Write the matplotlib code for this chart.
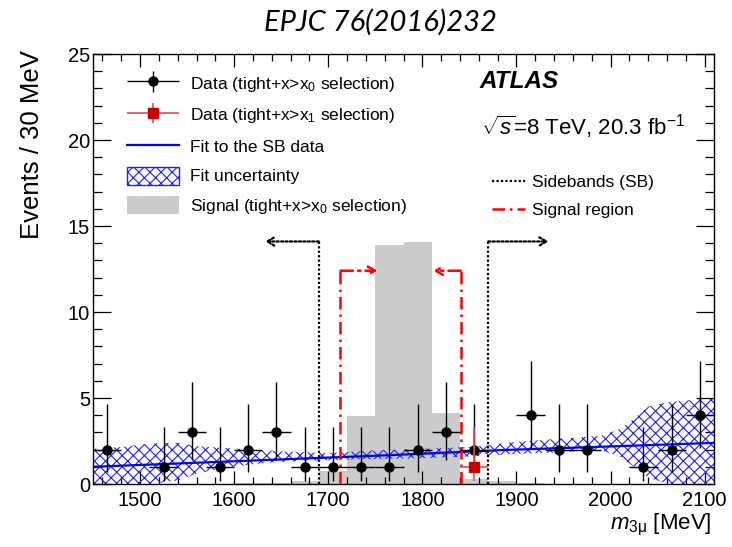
import numpy as np
import matplotlib
matplotlib.use("Agg")
import matplotlib.pyplot as plt
from matplotlib.lines import Line2D
from matplotlib.patches import Patch
from matplotlib.legend_handler import HandlerErrorbar

# ---------------- data ----------------
# 30 MeV bins from 1450 to 2110 MeV
bin_edges = [1450, 1480, 1510, 1540, 1570, 1600, 1630, 1660, 1690, 1720, 1750,
             1780, 1810, 1840, 1870, 1900, 1930, 1960, 1990, 2020, 2050, 2080, 2110]

# Data, tight + x > x0 selection (non-empty bins)
data0_x = [1465, 1525, 1555, 1585, 1615, 1645, 1675, 1705, 1735, 1765, 1795,
           1825, 1855, 1915, 1945, 1975, 2035, 2065, 2095]
data0_n = [2, 1, 3, 1, 2, 3, 1, 1, 1, 1, 2, 3, 2, 4, 2, 2, 1, 2, 4]
data0_err_lo = [1.29, 0.83, 1.63, 0.83, 1.29, 1.63, 0.83, 0.83, 0.83, 0.83, 1.29,
                1.63, 1.29, 1.91, 1.29, 1.29, 0.83, 1.29, 1.91]
data0_err_hi = [2.64, 2.30, 2.92, 2.30, 2.64, 2.92, 2.30, 2.30, 2.30, 2.30, 2.64,
                2.92, 2.64, 3.16, 2.64, 2.64, 2.30, 2.64, 3.16]

# Data, tight + x > x1 selection
data1_x = [1855]
data1_n = [1]
data1_err_lo = [0.83]
data1_err_hi = [2.30]

# Signal shape (tight + x > x0 selection), per bin
signal = [0.02, 0.02, 0.02, 0.02, 0.02, 0.03, 0.07, 0.15, 0.77, 3.93, 13.9,
          14.05, 4.12, 0.30, 0.17, 0.04, 0.0, 0.0, 0.0, 0.0, 0.0, 0.0]

# Fit to the sideband data
fit_x = [1450, 1767, 1884, 2110]
fit_y = [1.00, 1.68, 1.97, 2.39]

# Fit uncertainty band
band_x = [1450, 1480, 1510, 1540, 1560, 1590, 1620, 1650, 1700, 1750, 1800,
          1850, 1900, 1950, 1990, 2010, 2025, 2040, 2060, 2110]
band_hi = [2.05, 2.15, 2.35, 2.40, 2.20, 2.10, 2.00, 1.90, 1.80, 1.95, 2.05,
           2.15, 2.45, 2.65, 2.80, 3.20, 3.80, 4.50, 4.75, 5.00]
band_lo = [0.00, 0.00, 0.00, 0.20, 0.60, 0.95, 1.15, 1.30, 1.38, 1.45, 1.50,
           1.60, 1.75, 1.85, 1.95, 1.60, 1.00, 0.40, 0.00, 0.00]

# Sideband / signal-region boundaries and arrow geometry
sb_edges = [1690, 1870]
sb_arrow_tips = [1633, 1934]
sb_height = 14.1
sr_edges = [1713, 1841]
sr_arrow_tips = [1752, 1812]
sr_height = 12.4

# ---------------- style ----------------
plt.rcParams.update({
    "font.family": ["Liberation Sans", "DejaVu Sans"],
    "mathtext.fontset": "custom",
    "mathtext.rm": "Liberation Sans",
    "mathtext.it": "Liberation Sans:italic",
    "mathtext.bf": "Liberation Sans:bold",
    "hatch.color": "#2020ff",
    "hatch.linewidth": 0.8,
})

W, H = 732, 547
fig = plt.figure(figsize=(W / 100, H / 100), dpi=100)

def fx(px):
    return px / W

def fy(py):
    return 1 - py / H

ax = fig.add_axes([fx(93), fy(484), fx(714) - fx(93), fy(54) - fy(484)])
ax.set_xlim(1450, 2110)
ax.set_ylim(0, 25)

grey = "#cbcbcb"
ax.stairs(signal, bin_edges, fill=True, color=grey, zorder=1)

ax.fill_between(band_x, band_lo, band_hi, facecolor="none",
                edgecolor="#2020ff", hatch="xxx", linewidth=0, zorder=2)
ax.plot(fit_x, fit_y, color="blue", lw=1.6, zorder=3)

# boundaries
sb_style = dict(color="black", lw=1.6, linestyle=(0, (1, 1)))
sr_style = dict(color="red", lw=1.8, linestyle=(0, (5, 2, 1, 2)))
for xe, tip in zip(sb_edges, sb_arrow_tips):
    ax.plot([xe, xe], [0, sb_height], zorder=4, **sb_style)
    ax.annotate("", xy=(tip, sb_height), xytext=(xe, sb_height),
                arrowprops=dict(arrowstyle="->,head_length=0.5,head_width=0.3",
                                shrinkA=0, shrinkB=0, **sb_style), zorder=4)
for xe, tip in zip(sr_edges, sr_arrow_tips):
    ax.plot([xe, xe], [0, sr_height], zorder=4, **sr_style)
    ax.annotate("", xy=(tip, sr_height), xytext=(xe, sr_height),
                arrowprops=dict(arrowstyle="->,head_length=0.5,head_width=0.3",
                                shrinkA=0, shrinkB=0, **sr_style), zorder=4)

d0 = ax.errorbar(data0_x, data0_n, yerr=[data0_err_lo, data0_err_hi], xerr=15,
                 fmt="o", color="black", ms=6.5, elinewidth=1.0, capsize=0,
                 zorder=6)
d1 = ax.errorbar(data1_x, data1_n, yerr=[data1_err_lo, data1_err_hi], xerr=15,
                 fmt="s", color="#c80000", ecolor="#e05050", ms=6.5,
                 elinewidth=1.2, capsize=0, zorder=7)

# axes, ticks
ax.set_xticks([1500, 1600, 1700, 1800, 1900, 2000, 2100])
ax.set_xticks(np.arange(1460, 2110, 20), minor=True)
ax.set_yticks([0, 5, 10, 15, 20, 25])
ax.set_yticks(np.arange(0, 26, 1), minor=True)
ax.tick_params(which="both", direction="in", top=True, right=True,
               width=0.9, labelsize=14.5)
ax.tick_params(axis="x", which="major", length=9.5, pad=5)
ax.tick_params(axis="x", which="minor", length=5)
ax.tick_params(axis="y", which="major", length=13, pad=2)
ax.tick_params(axis="y", which="minor", length=6.5)
for s in ax.spines.values():
    s.set_linewidth(1.0)

# left legend
leg_fs = 12.5
handles = [d0, d1,
           Line2D([], [], color="blue", lw=1.6),
           Patch(facecolor="none", edgecolor="#2020ff", hatch="xxx", lw=1.0),
           Patch(facecolor=grey, edgecolor="none")]
labels = ["Data (tight+x>x$_0$ selection)",
          "Data (tight+x>x$_1$ selection)",
          "Fit to the SB data",
          "Fit uncertainty",
          "Signal (tight+x>x$_0$ selection)"]
leg = ax.legend(handles, labels, loc="upper left",
                bbox_to_anchor=(fx(127), fy(74)), bbox_transform=fig.transFigure,
                frameon=False, fontsize=leg_fs, handlelength=3.0,
                handleheight=1.2, labelspacing=0.68, handletextpad=0.63,
                borderpad=0, borderaxespad=0,
                handler_map={type(d0): HandlerErrorbar(xerr_size=1.5,
                                                       yerr_size=0.6)})
ax.add_artist(leg)

# right legend for region boundaries
handles2 = [Line2D([], [], **sb_style), Line2D([], [], **sr_style)]
leg2 = ax.legend(handles2, ["Sidebands (SB)", "Signal region"], loc="upper left",
                 bbox_to_anchor=(fx(492), fy(175)), bbox_transform=fig.transFigure,
                 frameon=False, fontsize=leg_fs, handlelength=1.9,
                 labelspacing=0.72, handletextpad=0.4, borderpad=0,
                 borderaxespad=0)

fig.text(fx(480), fy(82), "ATLAS", fontsize=17.5, fontweight="bold",
         fontstyle="italic", ha="left", va="center")
fig.text(fx(481), fy(127), r"$\sqrt{s}$=8 TeV, 20.3 fb$^{-1}$", fontsize=16,
         ha="left", va="center")

fig.text(fx(32), fy(50), "Events / 30 MeV", rotation=90, fontsize=18.5,
         ha="center", va="top")
fig.text(fx(712), fy(525), r"$m_{3\mathrm{\mu}}$ [MeV]", fontsize=16,
         ha="right", va="center")
fig.text(fx(380), fy(22), "EPJC 76(2016)232", fontsize=21, fontstyle="italic",
         family="Lato", ha="center", va="center")

fig.savefig("out.png", dpi=100)
